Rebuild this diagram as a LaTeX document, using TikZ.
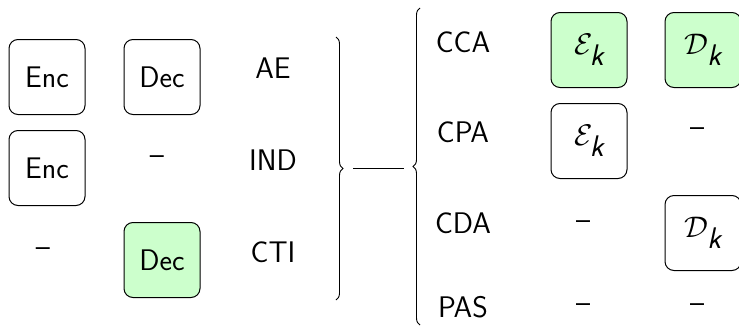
\RequirePackage{fix-cm}
\documentclass[tikz,border=0pt]{standalone}
\usetikzlibrary{decorations.pathreplacing}
\definecolor{boxgreen}{RGB}{204,255,204}
\begin{document}
\begin{tikzpicture}[x=1pt,y=-1pt,
  every node/.style={font=\fontsize{29.8}{36}\selectfont\sffamily, inner sep=0pt},
  oracle/.style={draw, rounded corners=9pt, line width=1pt,
    minimum width=76pt, minimum height=75pt},
  hot/.style={oracle, fill=boxgreen},
  bracestyle/.style={decorate, decoration={brace, amplitude=7pt}, line width=0.9pt}]
\useasboundingbox (0,0) rectangle (739,327);
\newcommand{\kk}{\textit{k}}
% left block: AE / IND / CTI
\node[oracle] (enc1) at (47,77) {Enc};
\node[oracle] (dec1) at (162,77) {Dec};
\node (ae) at (273,68) {AE};
\node[oracle] (enc2) at (47,168) {Enc};
\node (none2) at (157,160) {--};
\node (ind) at (273,160) {IND};
\node (none3) at (43,252) {--};
\node[hot] (dec3) at (162,260) {Dec};
\node (cti) at (273,252) {CTI};
% braces and link
\draw[bracestyle] (336,37) -- (336,300);
\draw[bracestyle] (420,325) -- (420,8);
\coordinate (la) at (353,168);
\coordinate (lb) at (404,168);
\draw[line width=1pt] (la) -- (lb);
% right block: CCA / CPA / CDA / PAS
\node (cca) at (463,42) {CCA};
\node[hot] (ecca) at (589,50) {$\mathcal{E}_{\kk}$};
\node[hot] (dcca) at (703,50) {$\mathcal{D}_{\kk}$};
\node (cpa) at (463,132) {CPA};
\node[oracle] (ecpa) at (589,141) {$\mathcal{E}_{\kk}$};
\node (ncpa) at (697,132) {--};
\node (cda) at (463,223) {CDA};
\node (ncda) at (583,225) {--};
\node[oracle] (dcda) at (703,233) {$\mathcal{D}_{\kk}$};
\node (pas) at (463,307) {PAS};
\node (npas1) at (583,308) {--};
\node (npas2) at (697,308) {--};
\end{tikzpicture}
\end{document}
